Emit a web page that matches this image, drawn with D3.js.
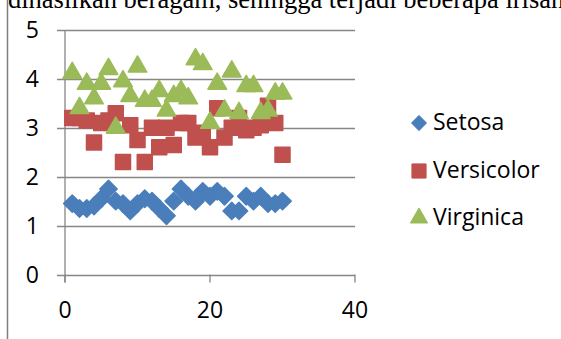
<!DOCTYPE html>
<html>
<head>
<meta charset="utf-8">
<script src="https://cdn.jsdelivr.net/npm/d3@7/dist/d3.min.js"></script>
<style>
  html, body { margin: 0; padding: 0; background: #fff; }
  svg { display: block; }
</style>
</head>
<body>
<script>
// Iris sample measurements, 30 samples per species
const xValues = d3.range(1, 31);
const setosa = [1.45, 1.35, 1.35, 1.4, 1.55, 1.75, 1.5, 1.45, 1.3, 1.45, 1.55, 1.5, 1.35, 1.2, 1.5,
                1.75, 1.6, 1.5, 1.7, 1.6, 1.7, 1.6, 1.3, 1.3, 1.6, 1.5, 1.6, 1.45, 1.45, 1.5];
const versicolor = [3.2, 3.2, 3.15, 2.7, 3.1, 3.15, 3.3, 2.3, 3.05, 2.75, 2.3, 3.0, 2.6, 3.0, 2.65,
                    3.1, 3.1, 2.8, 2.9, 2.6, 3.4, 2.8, 3.0, 3.2, 2.95, 3.0, 3.05, 3.45, 3.1, 2.45];
const virginica = [4.12, 3.4, 3.9, 3.6, 3.9, 4.2, 3.0, 3.95, 3.65, 4.25, 3.55, 3.55, 3.75, 3.35, 3.65,
                   3.75, 3.6, 4.4, 4.3, 3.1, 3.9, 3.35, 4.15, 3.3, 3.85, 3.85, 3.3, 3.35, 3.7, 3.7];
const seriesNames = ["Setosa", "Versicolor", "Virginica"];
const seriesColors = ["#4a7ebb", "#c0504d", "#9bbb59"];
const xTicks = [0, 20, 40];
const yTicks = [0, 1, 2, 3, 4, 5];
const captionText = "dihasilkan beragam, sehingga terjadi beberapa irisan";

const W = 561, H = 339;
const svg = d3.select("body").append("svg").attr("width", W).attr("height", H);

// page fragment around the chart
svg.append("line").attr("x1", 7.5).attr("x2", 7.5).attr("y1", 0).attr("y2", H)
  .attr("stroke", "#7f7f7f").attr("stroke-width", 1.5);
svg.append("text").attr("x", 8).attr("y", 8)
  .attr("font-family", "'Liberation Serif', 'Times New Roman', serif")
  .attr("font-size", 26.5).attr("fill", "#000").text(captionText);

const x = d3.scaleLinear().domain([0, 40]).range([65, 355]);
const y = d3.scaleLinear().domain([0, 5]).range([274.5, 30]);

const axisColor = "#868686";
const labelFont = "'Open Sans', sans-serif";

// horizontal gridlines with left tick stubs
svg.append("g").selectAll("line").data(yTicks).join("line")
  .attr("x1", 57).attr("x2", x(40))
  .attr("y1", d => Math.round(y(d)) + 0.5).attr("y2", d => Math.round(y(d)) + 0.5)
  .attr("stroke", axisColor).attr("stroke-width", 1.3);

// vertical value axis
svg.append("line").attr("x1", x(0)).attr("x2", x(0)).attr("y1", y(5)).attr("y2", y(0) + 8)
  .attr("stroke", axisColor).attr("stroke-width", 1.3);

// x-axis ticks
svg.append("g").selectAll("line").data(xTicks).join("line")
  .attr("x1", d => x(d)).attr("x2", d => x(d))
  .attr("y1", y(0)).attr("y2", y(0) + 8)
  .attr("stroke", axisColor).attr("stroke-width", 1.3);

// tick labels
svg.append("g").selectAll("text").data(yTicks).join("text")
  .attr("x", 39).attr("y", d => y(d) + 2)
  .attr("text-anchor", "end").attr("dominant-baseline", "middle")
  .attr("font-family", labelFont).attr("font-size", 23).attr("fill", "#000")
  .text(d => d);
svg.append("g").selectAll("text").data(xTicks).join("text")
  .attr("x", d => x(d)).attr("y", 312)
  .attr("text-anchor", "middle").attr("dominant-baseline", "middle")
  .attr("font-family", labelFont).attr("font-size", 23).attr("fill", "#000")
  .text(d => d);

// marker shapes per series
const diamond = d3.symbol().type(d3.symbolSquare).size(150);
const square = d3.symbol().type(d3.symbolSquare).size(225);
const triangle = d3.symbol().type(d3.symbolTriangle).size(150);
const shapes = [
  { path: diamond(), rotate: 45 },
  { path: square(), rotate: 0 },
  { path: triangle(), rotate: 0 }
];

const seriesData = [setosa, versicolor, virginica];
seriesData.forEach((vals, i) => {
  svg.append("g").selectAll("path").data(vals).join("path")
    .attr("d", shapes[i].path)
    .attr("transform", (d, j) => `translate(${x(xValues[j])},${y(d)}) rotate(${shapes[i].rotate})`)
    .attr("fill", seriesColors[i])
    .attr("stroke", seriesColors[i]).attr("stroke-width", 1.5)
    .attr("stroke-linejoin", "round");
});

// legend
const legendY = [123, 171, 218];
const legendShapes = [
  d3.symbol().type(d3.symbolSquare).size(110)(),
  d3.symbol().type(d3.symbolSquare).size(200)(),
  d3.symbol().type(d3.symbolTriangle).size(130)()
];
const lg = svg.append("g");
seriesNames.forEach((name, i) => {
  lg.append("path").attr("d", legendShapes[i])
    .attr("transform", `translate(419,${legendY[i]}) rotate(${shapes[i].rotate})`)
    .attr("fill", seriesColors[i]).attr("stroke", seriesColors[i]).attr("stroke-width", 1)
    .attr("stroke-linejoin", "round");
  lg.append("text").attr("x", 433).attr("y", legendY[i] + 1)
    .attr("dominant-baseline", "middle")
    .attr("font-family", labelFont).attr("font-size", 23).attr("fill", "#000")
    .text(name);
});
</script>
</body>
</html>
